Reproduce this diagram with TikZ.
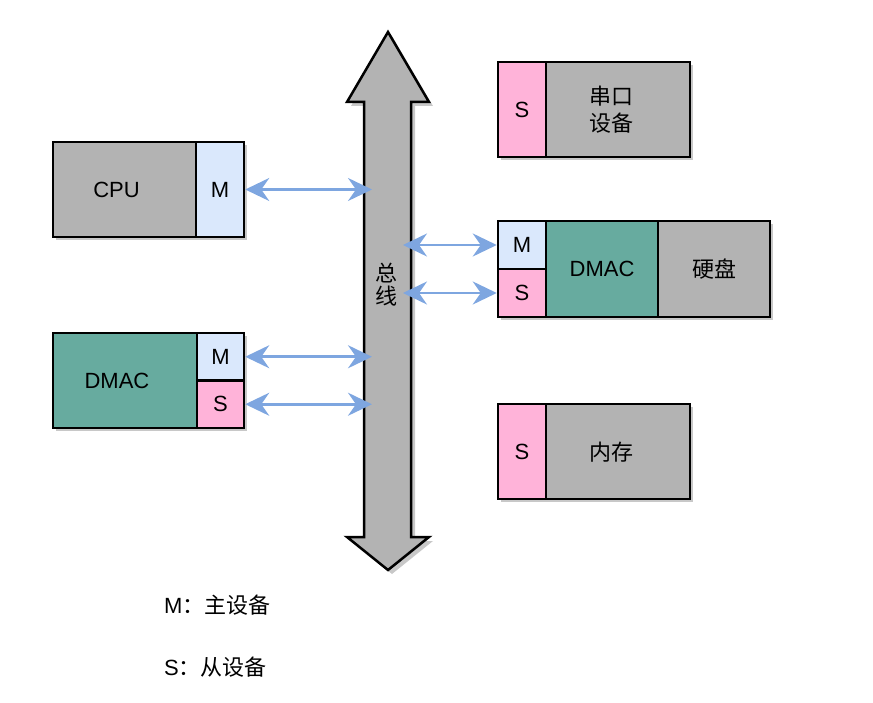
\documentclass[tikz,border=0pt]{standalone}
\usepackage{fontspec}
\setmainfont{Liberation Sans}
\newfontfamily\cjk{Noto Sans CJK SC}
\usetikzlibrary{arrows.meta}
\definecolor{boxgray}{HTML}{B3B3B3}
\definecolor{mblue}{HTML}{DAE8FC}
\definecolor{spink}{HTML}{FFB3D9}
\definecolor{dteal}{HTML}{67AB9F}
\definecolor{arrblue}{HTML}{7EA6E0}
\definecolor{shadowgray}{HTML}{C8C8C8}
\tikzset{
  box/.style={draw=black, line width=2.5pt, inner sep=0pt, font=\fontsize{22}{26}\selectfont},
  lbl/.style={inner sep=0pt, font=\fontsize{22}{27}\selectfont, align=center},
  biarrow/.style={draw=arrblue, line width=2.5pt,
    {Stealth[length=24pt,width=23pt,inset=8pt]}-{Stealth[length=24pt,width=23pt,inset=8pt]}},
}
\begin{document}
\begin{tikzpicture}[x=1pt,y=-1pt]
\useasboundingbox (0,0) rectangle (873,703);
% shadows
\fill[shadowgray] (56,145) rectangle (247,240);
\fill[shadowgray] (56,336) rectangle (247,431);
\fill[shadowgray] (501,65) rectangle (693,160);
\fill[shadowgray] (501,224) rectangle (773,320);
\fill[shadowgray] (501,407) rectangle (693,502);
\fill[shadowgray] (392,36) -- (433,106) -- (415,106) -- (415,541) -- (433,541) -- (392,574) -- (351,541) -- (368,541) -- (368,106) -- (351,106) -- cycle;
% bus
\draw[fill=boxgray, line width=2.5pt, line join=miter] (388,32) -- (429,102) -- (411,102) -- (411,537) -- (429,537) -- (388,570) -- (347,537) -- (364,537) -- (364,102) -- (347,102) -- cycle;
\node[lbl] (buslbl) at (386,285) {\cjk 总\\[-4pt]\cjk 线};
\coordinate (busA) at (372,189.5);
\coordinate (busB) at (372,356.75);
\coordinate (busC) at (372,404.25);
\coordinate (busD) at (403,245);
\coordinate (busE) at (403,293);
% CPU
\node[box, fill=boxgray, minimum width=143pt, minimum height=95pt] (cpu) at (124.5,189.5) {};
\node[lbl] (cpulbl) at (116.5,189.5) {CPU};
\node[box, fill=mblue, minimum width=48pt, minimum height=95pt] (cpum) at (220,189.5) {M};
% DMAC left
\node[box, fill=dteal, minimum width=144pt, minimum height=95pt] (dmacl) at (125,380.5) {};
\node[lbl] (dmacllbl) at (117,381) {DMAC};
\node[box, fill=mblue, minimum width=47pt, minimum height=47.5pt] (dmaclm) at (220.5,356.75) {M};
\node[box, fill=spink, minimum width=47pt, minimum height=47.5pt] (dmacls) at (220.5,404.25) {S};
% serial
\node[box, fill=spink, minimum width=48pt, minimum height=95pt] (sers) at (522,109.5) {S};
\node[box, fill=boxgray, minimum width=144pt, minimum height=95pt] (ser) at (618,109.5) {};
\node[lbl] (serlbl) at (611,110) {\cjk 串口\\\cjk 设备};
% hard disk
\node[box, fill=mblue, minimum width=48pt, minimum height=48pt] (hdm) at (522,245) {M};
\node[box, fill=spink, minimum width=48pt, minimum height=48pt] (hds) at (522,293) {S};
\node[box, fill=dteal, minimum width=112pt, minimum height=96pt] (hddmac) at (602,269) {DMAC};
\node[box, fill=boxgray, minimum width=112pt, minimum height=96pt] (hd) at (714,269) {\cjk 硬盘};
% memory
\node[box, fill=spink, minimum width=48pt, minimum height=95pt] (mems) at (522,451.5) {S};
\node[box, fill=boxgray, minimum width=144pt, minimum height=95pt] (mem) at (618,451.5) {};
\node[lbl] (memlbl) at (611,452) {\cjk 内存};
% arrows
\draw[biarrow] (cpum.east) -- (busA);
\draw[biarrow] (dmaclm.east) -- (busB);
\draw[biarrow] (dmacls.east) -- (busC);
\draw[biarrow] (busD) -- (hdm.west);
\draw[biarrow] (busE) -- (hds.west);
% legend
\node[lbl, anchor=west] (legm) at (164,605) {M\cjk ：主设备};
\node[lbl, anchor=west] (legs) at (164,667) {S\cjk ：从设备};
\end{tikzpicture}
\end{document}
